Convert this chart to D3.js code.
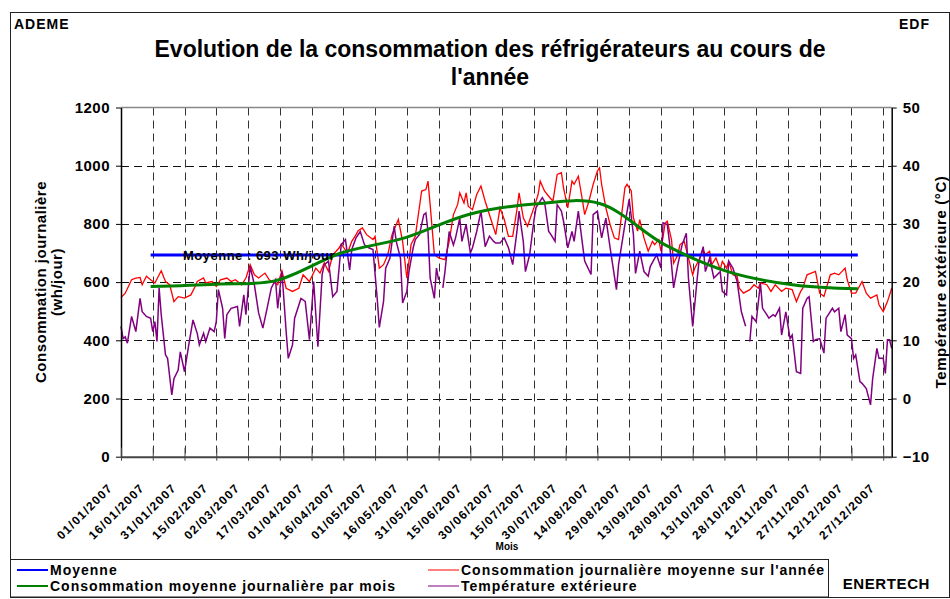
<!DOCTYPE html>
<html>
<head>
<meta charset="utf-8">
<script src="https://d3js.org/d3.v7.min.js"></script>
<style>
  body { margin: 0; background: #fff; }
  svg { font-family: "Liberation Sans", Arial, sans-serif; }
  text { font-weight: bold; fill: #000; }
</style>
</head>
<body>
<div id="chart"></div>
<script>
// ---------------- data ----------------
// day of year (0 = 01/01/2007) -> daily consumption, Wh/jour
var consoJour = [
  [0,547],[2,562],[5,608],[7,614],[9,616],[10,591],[12,620],[14,608],[16,597],[19,639],[21,602],[23,591],
  [25,533],[27,550],[30,545],[33,556],[35,585],[36,602],[39,614],[40,597],[43,602],[45,585],[47,608],[50,614],
  [52,602],[54,608],[57,591],[59,614],[61,660],[63,625],[65,614],[68,631],[70,608],[74,591],[76,639],[78,579],
  [81,568],[84,579],[86,625],[89,602],[92,648],[94,631],[96,666],[98,637],[100,694],[103,717],[104,731],[107,700],
  [109,740],[111,763],[112,777],[114,786],[116,763],[119,746],[120,757],[122,648],[124,660],[126,694],[128,763],
  [131,815],[133,740],[135,614],[137,729],[139,757],[142,913],[144,918],[145,947],[146,867],[148,694],[150,683],
  [153,677],[155,740],[157,832],[159,867],[160,907],[162,872],[163,907],[164,861],[166,849],[168,901],[170,930],
  [172,878],[175,809],[177,763],[179,855],[181,815],[183,757],[185,757],[187,849],[188,907],[190,821],[192,792],
  [195,855],[197,901],[198,947],[200,913],[202,895],[204,878],[206,970],[208,976],[209,924],[211,855],[213,947],
  [214,936],[216,964],[218,878],[219,832],[221,878],[223,936],[225,982],[226,993],[227,936],[229,855],[231,798],
  [233,752],[235,746],[238,924],[239,936],[241,913],[242,821],[244,775],[245,815],[247,752],[249,706],[251,740],
  [252,729],[254,746],[255,706],[257,803],[258,809],[260,746],[261,665],[263,694],[264,729],[266,740],[268,683],
  [270,625],[271,648],[273,677],[275,711],[276,694],[278,706],[279,660],[281,683],[283,643],[284,671],[286,648],
  [287,671],[289,625],[291,620],[292,579],[294,562],[297,574],[299,591],[301,579],[302,597],[305,591],[307,568],
  [309,591],[312,568],[314,579],[317,574],[319,533],[321,568],[322,579],[324,625],[326,631],[328,637],[330,562],
  [332,551],[335,625],[337,631],[339,625],[342,648],[343,608],[345,562],[347,562],[350,602],[352,562],[354,545],
  [357,556],[358,522],[360,499],[362,533],[364,579]
];

// day of year -> outdoor temperature, °C (null = missing)
var tempExt = [
  [0,12.4],[1,10.3],[2,10.6],[3,9.5],[5,14.1],[7,11.5],[9,17.2],[10,14.9],[12,14.1],[14,13.8],[15,11.5],[16,13.2],
  [17,9.8],[18,19.0],[19,14.4],[21,7.5],[22,6.9],[24,0.6],[25,3.4],[27,4.9],[28,8.0],[30,4.6],[32,9.2],[34,13.5],
  [36,11.2],[37,9.2],[39,11.2],[40,9.8],[42,12.1],[44,11.5],[45,13.2],[46,18.7],[48,15.5],[49,10.3],[50,14.4],
  [52,15.5],[55,15.8],[56,12.4],[58,17.8],[59,14.4],[61,22.7],[63,19.5],[65,14.7],[67,12.1],[69,15.5],[71,19.0],
  [73,20.4],[74,15.5],[76,21.8],[78,11.5],[79,6.9],[81,9.2],[82,13.8],[85,17.2],[87,16.7],[89,10.1],[91,20.1],
  [93,8.9],[95,21.3],[96,23.0],[98,23.6],[100,17.5],[102,18.4],[104,26.4],[106,27.3],[108,22.1],[109,25.6],
  [111,27.6],[113,28.7],[115,26.4],[117,25.9],[119,25.6],[121,17.2],[122,12.2],[124,16.7],[125,22.4],[127,24.1],
  [129,29.6],[130,27.0],[132,24.1],[133,16.4],[135,18.4],[136,21.8],[138,25.9],[139,27.3],[141,28.2],[143,31.6],
  [144,31.9],[145,28.7],[146,20.7],[148,17.2],[149,22.4],[150,20.4],[151,null],[152,19.0],[153,21.8],[155,28.7],
  [157,26.4],[158,27.6],[160,31.0],[161,27.0],[163,29.9],[165,25.0],[166,25.9],[168,28.7],[170,32.2],[172,26.1],
  [174,27.9],[176,27.0],[177,26.7],[179,26.7],[181,27.6],[183,25.9],[185,23.0],[187,28.7],[188,32.2],[190,27.0],
  [191,21.8],[193,24.7],[195,30.5],[196,32.8],[199,34.5],[200,33.9],[202,28.7],[203,28.2],[205,27.0],[206,33.3],
  [208,32.2],[209,30.5],[211,25.9],[213,28.7],[214,27.0],[216,32.2],[218,26.4],[219,23.6],[222,21.3],[223,31.6],
  [225,32.2],[227,27.6],[229,31.0],[231,25.9],[234,18.7],[235,23.0],[238,29.9],[240,34.2],[242,28.2],[243,21.5],
  [245,25.3],[247,21.8],[249,21.0],[250,22.7],[253,24.7],[255,22.4],[256,30.2],[258,29.9],[259,27.0],[261,19.0],
  [263,23.0],[265,26.4],[267,28.4],[268,20.7],[270,12.4],[272,20.1],[273,23.6],[275,26.1],[276,21.8],[278,24.1],
  [280,20.7],[283,21.8],[284,18.4],[286,17.8],[287,23.6],[289,22.4],[291,20.1],[293,14.9],[295,12.4],[296,null],
  [297,9.8],[298,14.1],[300,13.2],[302,19.8],[303,15.5],[305,14.4],[306,13.8],[308,14.4],[309,14.1],[311,15.5],
  [312,10.9],[314,14.9],[316,10.3],[317,10.9],[319,4.6],[321,4.3],[322,15.5],[324,17.2],[325,17.5],[327,9.8],
  [328,10.1],[330,10.3],[332,7.8],[333,13.8],[336,15.5],[337,14.9],[339,15.5],[340,11.5],[342,14.4],[343,10.9],
  [345,10.3],[346,6.9],[347,7.5],[349,2.9],[350,2.6],[352,1.7],[354,-1.1],[355,3.4],[357,8.6],[358,6.9],
  [360,6.9],[361,4.3],[362,10.1],[363,10.1],[364,8.6]
];

// monthly mean, placed on the 15th of each month
var moisJours  = [14, 45, 73, 104, 134, 165, 195, 226, 257, 287, 318, 348];
var moisConso  = [585, 593, 605, 700, 752, 834, 868, 870, 728, 635, 590, 577];
var moyenneAn  = 693;

var tickJours = d3.range(0, 361, 15);
var tickLabels = ["01/01/2007","16/01/2007","31/01/2007","15/02/2007","02/03/2007","17/03/2007","01/04/2007",
  "16/04/2007","01/05/2007","16/05/2007","31/05/2007","15/06/2007","30/06/2007","15/07/2007","30/07/2007",
  "14/08/2007","29/08/2007","13/09/2007","28/09/2007","13/10/2007","28/10/2007","12/11/2007","27/11/2007",
  "12/12/2007","27/12/2007"];
var consoTicks = d3.range(0, 1201, 200);
var tempTicks = d3.range(-10, 51, 10);

// ---------------- set-up ----------------
var W = 950, H = 599;
var x0 = 121, x1 = 891.7, yTop = 107.5, yBot = 456.7;

var svg = d3.select("#chart").append("svg")
    .attr("width", W).attr("height", H);

var x = d3.scaleLinear().domain([0, 364]).range([x0, x1]);
var y = d3.scaleLinear().domain([0, 1200]).range([yBot, yTop]);
var yT = d3.scaleLinear().domain([-10, 50]).range([yBot, yTop]);

// outer frame
svg.append("rect")
    .attr("x", 10.5).attr("y", 12.5).attr("width", 939).attr("height", 585)
    .attr("fill", "none").attr("stroke", "#222").attr("stroke-width", 1);

// header / footer texts
svg.append("text").attr("x", 14).attr("y", 29).style("font-size", "14px").style("letter-spacing", "1px").text("ADEME");
svg.append("text").attr("x", 930).attr("y", 29).attr("text-anchor", "end").style("font-size", "14px").style("letter-spacing", "1px").text("EDF");
svg.append("text").attr("x", 930).attr("y", 589).attr("text-anchor", "end").style("font-size", "15px").style("letter-spacing", "0.6px").text("ENERTECH");

svg.append("text").attr("x", 490).attr("y", 57).attr("text-anchor", "middle").style("font-size", "23px")
    .text("Evolution de la consommation des réfrigérateurs au cours de");
svg.append("text").attr("x", 490).attr("y", 85).attr("text-anchor", "middle").style("font-size", "23px")
    .text("l'année");

// ---------------- grid ----------------
var grid = svg.append("g");
grid.selectAll("line.h").data(consoTicks.filter(function(d){ return d > 0 && d < 1200; }))
  .enter().append("line")
    .attr("x1", x0).attr("x2", x1)
    .attr("y1", function(d){ return Math.round(y(d)) + 0.5; })
    .attr("y2", function(d){ return Math.round(y(d)) + 0.5; })
    .attr("stroke", "#111").attr("stroke-dasharray", "8,5");
grid.selectAll("line.v").data(tickJours.filter(function(d){ return d > 0; }))
  .enter().append("line")
    .attr("y1", yTop).attr("y2", yBot)
    .attr("x1", function(d){ return Math.round(x(d)) + 0.5; })
    .attr("x2", function(d){ return Math.round(x(d)) + 0.5; })
    .attr("stroke", "#333").attr("stroke-dasharray", "8,5");

// top border of plot
svg.append("line").attr("x1", x0).attr("x2", x1).attr("y1", yTop).attr("y2", yTop)
    .attr("stroke", "#888").attr("stroke-width", 1.5);

// ---------------- series ----------------
var line = d3.line()
    .defined(function(d){ return d[1] !== null; })
    .x(function(d){ return x(d[0]); });

svg.append("path").datum(consoJour)
    .attr("fill", "none").attr("stroke", "#ff0000").attr("stroke-width", 1.3)
    .attr("d", line.y(function(d){ return y(d[1]); }));

svg.append("path").datum(tempExt)
    .attr("fill", "none").attr("stroke", "#800080").attr("stroke-width", 1.5)
    .attr("d", line.y(function(d){ return yT(d[1]); }));

svg.append("line")
    .attr("x1", x(moisJours[0])).attr("x2", x(moisJours[moisJours.length - 1]))
    .attr("y1", y(moyenneAn)).attr("y2", y(moyenneAn))
    .attr("stroke", "#0000ff").attr("stroke-width", 3);

var mois = moisJours.map(function(d, i){ return [d, moisConso[i]]; });
svg.append("path").datum(mois)
    .attr("fill", "none").attr("stroke", "#008000").attr("stroke-width", 3)
    .attr("d", d3.line().curve(d3.curveCatmullRom.alpha(0.5))
        .x(function(d){ return x(d[0]); }).y(function(d){ return y(d[1]); }));

svg.append("text").attr("x", 183).attr("y", y(moyenneAn) + 5).style("font-size", "13px")
    .style("letter-spacing", "0.5px")
    .text("Moyenne : " + moyenneAn + " Wh/jour");

// ---------------- axes ----------------
var axL = svg.append("g").attr("transform", "translate(" + x0 + ",0)")
    .call(d3.axisLeft(y).tickValues(consoTicks).tickFormat(d3.format("d"))
        .tickSize(5).tickSizeOuter(0).tickPadding(6));
var axR = svg.append("g").attr("transform", "translate(" + x1 + ",0)")
    .call(d3.axisRight(yT).tickValues(tempTicks).tickFormat(d3.format("d"))
        .tickSize(5).tickSizeOuter(0).tickPadding(6));
var axB = svg.append("g").attr("transform", "translate(0," + yBot + ")")
    .call(d3.axisBottom(x).tickValues(tickJours).tickSize(-9).tickSizeOuter(0)
        .tickFormat(function(d, i){ return tickLabels[i]; }));

[axL, axR].forEach(function(a){
  a.select(".domain").attr("stroke", "#000").attr("stroke-width", 1.5);
  a.selectAll(".tick line").attr("stroke", "#000");
  a.selectAll(".tick text").style("font-size", "15px").style("font-family", "inherit")
      .style("letter-spacing", "0.5px").attr("font-weight", "bold");
});
axB.select(".domain").attr("stroke", "#444").attr("stroke-width", 2);
axB.selectAll(".tick line").attr("stroke", "#444").attr("y2", 4).attr("y1", -9);
axB.selectAll(".tick text")
    .style("font-size", "12px").style("font-family", "inherit").style("letter-spacing", "1.3px")
    .attr("text-anchor", "end").attr("y", 0).attr("dy", 0)
    .attr("transform", "translate(-8,32) rotate(-45)");

// axis titles
svg.append("text").attr("transform", "translate(46,282) rotate(-90)").attr("text-anchor", "middle")
    .style("font-size", "15px").style("letter-spacing", "0.5px").text("Consommation journalière");
svg.append("text").attr("transform", "translate(62,282) rotate(-90)").attr("text-anchor", "middle")
    .style("font-size", "15px").style("letter-spacing", "0.5px").text("(wh/jour)");
svg.append("text").attr("transform", "translate(946,282) rotate(-90)").attr("text-anchor", "middle")
    .style("font-size", "15px").style("letter-spacing", "0.6px").text("Température extérieure (°C)");
svg.append("text").attr("x", 507).attr("y", 550).attr("text-anchor", "middle")
    .style("font-size", "10px").text("Mois");

// ---------------- legend ----------------
var leg = svg.append("g");
leg.append("rect").attr("x", 10.5).attr("y", 559.5).attr("width", 818).attr("height", 37.5)
    .attr("fill", "none").attr("stroke", "#222");
var legItems = [
  {label: "Moyenne", color: "#0000ff", w: 2, lx: 17, ly: 570},
  {label: "Consommation moyenne journalière par mois", color: "#008000", w: 2, lx: 17, ly: 586},
  {label: "Consommation journalière moyenne sur l'année", color: "#ff0000", w: 1, lx: 428, ly: 570},
  {label: "Température extérieure", color: "#800080", w: 1, lx: 428, ly: 586}
];
legItems.forEach(function(d){
  leg.append("line").attr("x1", d.lx).attr("x2", d.lx + 31).attr("y1", d.ly).attr("y2", d.ly)
      .attr("stroke", d.color).attr("stroke-width", d.w);
  leg.append("text").attr("x", d.lx + 33).attr("y", d.ly + 5).style("font-size", "14px")
      .style("letter-spacing", "1px").text(d.label);
});
</script>
</body>
</html>
